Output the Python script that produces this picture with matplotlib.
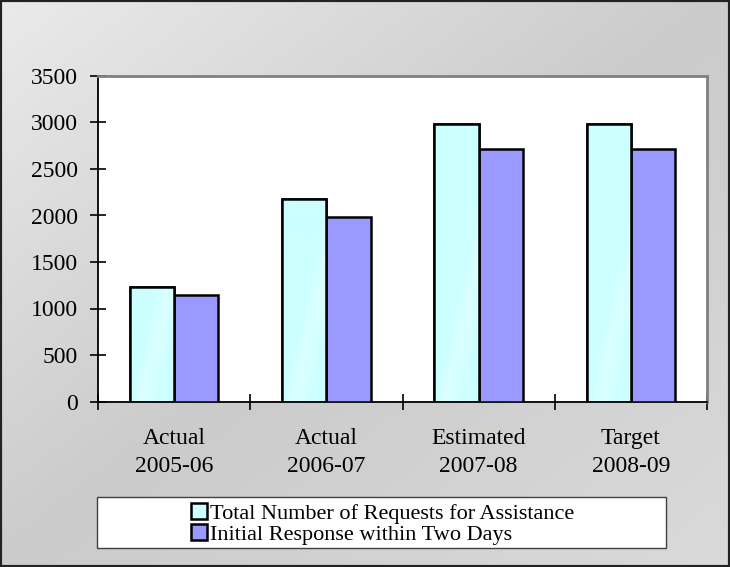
import numpy as np
import matplotlib
matplotlib.use("Agg")
import matplotlib.pyplot as plt
from matplotlib.patches import Rectangle
from matplotlib.colors import LinearSegmentedColormap

# Data
periods = ["Actual\n2005-06", "Actual\n2006-07", "Estimated\n2007-08", "Target\n2008-09"]
total_requests = [1232, 2180, 2980, 2980]
initial_response = [1146, 1980, 2720, 2715]
series_names = ["Total Number of Requests for Assistance",
                "Initial Response within Two Days"]
y_ticks = [0, 500, 1000, 1500, 2000, 2500, 3000, 3500]

plt.rcParams["font.family"] = ["Liberation Serif", "DejaVu Serif"]

W, H = 730, 567
fig = plt.figure(figsize=(W / 100, H / 100), dpi=100)

# Gray gradient background over the whole figure
bg = fig.add_axes([0, 0, 1, 1], zorder=0)
bg.set_axis_off()
yy, xx = np.mgrid[0:1:200j, 0:1:260j]
u = (xx + yy) / 2.0
bg_cmap = LinearSegmentedColormap.from_list(
    "bg", [(0.0, "#eaeaea"), (0.5, "#cbcbcb"), (1.0, "#dadada")])
bg.imshow(u, cmap=bg_cmap, vmin=0, vmax=1, aspect="auto",
          extent=[0, 1, 0, 1], origin="upper")
bg.set_xlim(0, 1)
bg.set_ylim(0, 1)

# Plot area
ax = fig.add_axes([98 / W, 1 - 401.5 / H, (707 - 98) / W, (401.5 - 76) / H], zorder=1)
ax.set_facecolor("white")

n = len(periods)
x = np.arange(n)
bw = 0.29
cyan_bars = ax.bar(x - bw / 2, total_requests, bw, color="#ccffff",
                   edgecolor="black", linewidth=1.8, label=series_names[0], zorder=3)
purple_bars = ax.bar(x + bw / 2, initial_response, bw, color="#9999ff",
                     edgecolor="black", linewidth=1.8, label=series_names[1], zorder=3)

# Subtle diagonal sheen on the light bars
sheen_cmap = LinearSegmentedColormap.from_list(
    "sheen", [(0.0, "#ccffff"), (0.25, "#ccffff"), (0.42, "#dbffff"),
              (0.58, "#d5ffff"), (0.72, "#ccffff"), (1.0, "#ccffff")])
for b in cyan_bars:
    x0, w, h = b.get_x(), b.get_width(), b.get_height()
    gy, gx = np.mgrid[0:1:160j, 0:1:40j]
    s = gx * 0.7 - (gy * h / 1500.0) * 0.5 + 0.25
    im = ax.imshow(s, cmap=sheen_cmap, vmin=0, vmax=1, aspect="auto",
                   extent=[x0, x0 + w, 0, h], origin="lower", zorder=3.5)
    im.set_clip_path(b)
    edge = Rectangle((x0, 0), w, h, fill=False, edgecolor="black",
                     linewidth=1.8, zorder=4)
    ax.add_patch(edge)

ax.set_xlim(-0.5, n - 0.5)
ax.set_ylim(0, 3500)
ax.set_yticks(y_ticks)
ax.set_yticklabels([str(v) for v in y_ticks], fontsize=17)

# Ticks at category boundaries, labels at the centres
ax.set_xticks(np.arange(n + 1) - 0.5)
ax.set_xticklabels([])
ax.set_xticks(x, minor=True)
ax.set_xticklabels(periods, minor=True, fontsize=17, linespacing=1.45)
ax.tick_params(axis="x", which="major", direction="inout", length=11, width=1.2)
ax.tick_params(axis="x", which="minor", length=0, pad=19)
ax.tick_params(axis="y", direction="inout", length=11, width=1.2, pad=9)

for side in ("left", "bottom"):
    ax.spines[side].set_color("black")
    ax.spines[side].set_linewidth(1.3)
for side in ("top", "right"):
    ax.spines[side].set_color("#808080")
    ax.spines[side].set_linewidth(2)

# Legend box
box = Rectangle((97 / W, 1 - 548 / H), (666 - 97) / W, (548 - 497) / H,
                transform=fig.transFigure, facecolor="white",
                edgecolor="#404040", linewidth=1, zorder=2)
fig.patches.append(box)
leg = fig.legend(handles=[cyan_bars, purple_bars], labels=series_names,
                 loc="center", bbox_to_anchor=(383 / W, 1 - 524 / H),
                 frameon=False, fontsize=16, handlelength=0.7, handleheight=0.7,
                 handletextpad=0.15, labelspacing=0.0, borderpad=0)
leg.set_zorder(3)
for hnd in leg.legend_handles:
    hnd.set_linewidth(1.8)

# Outer figure border
fig.patches.append(Rectangle((0, 0), 1, 1, transform=fig.transFigure, fill=False,
                             edgecolor="#222222", linewidth=3, zorder=5))

fig.savefig("out.png", dpi=100)
